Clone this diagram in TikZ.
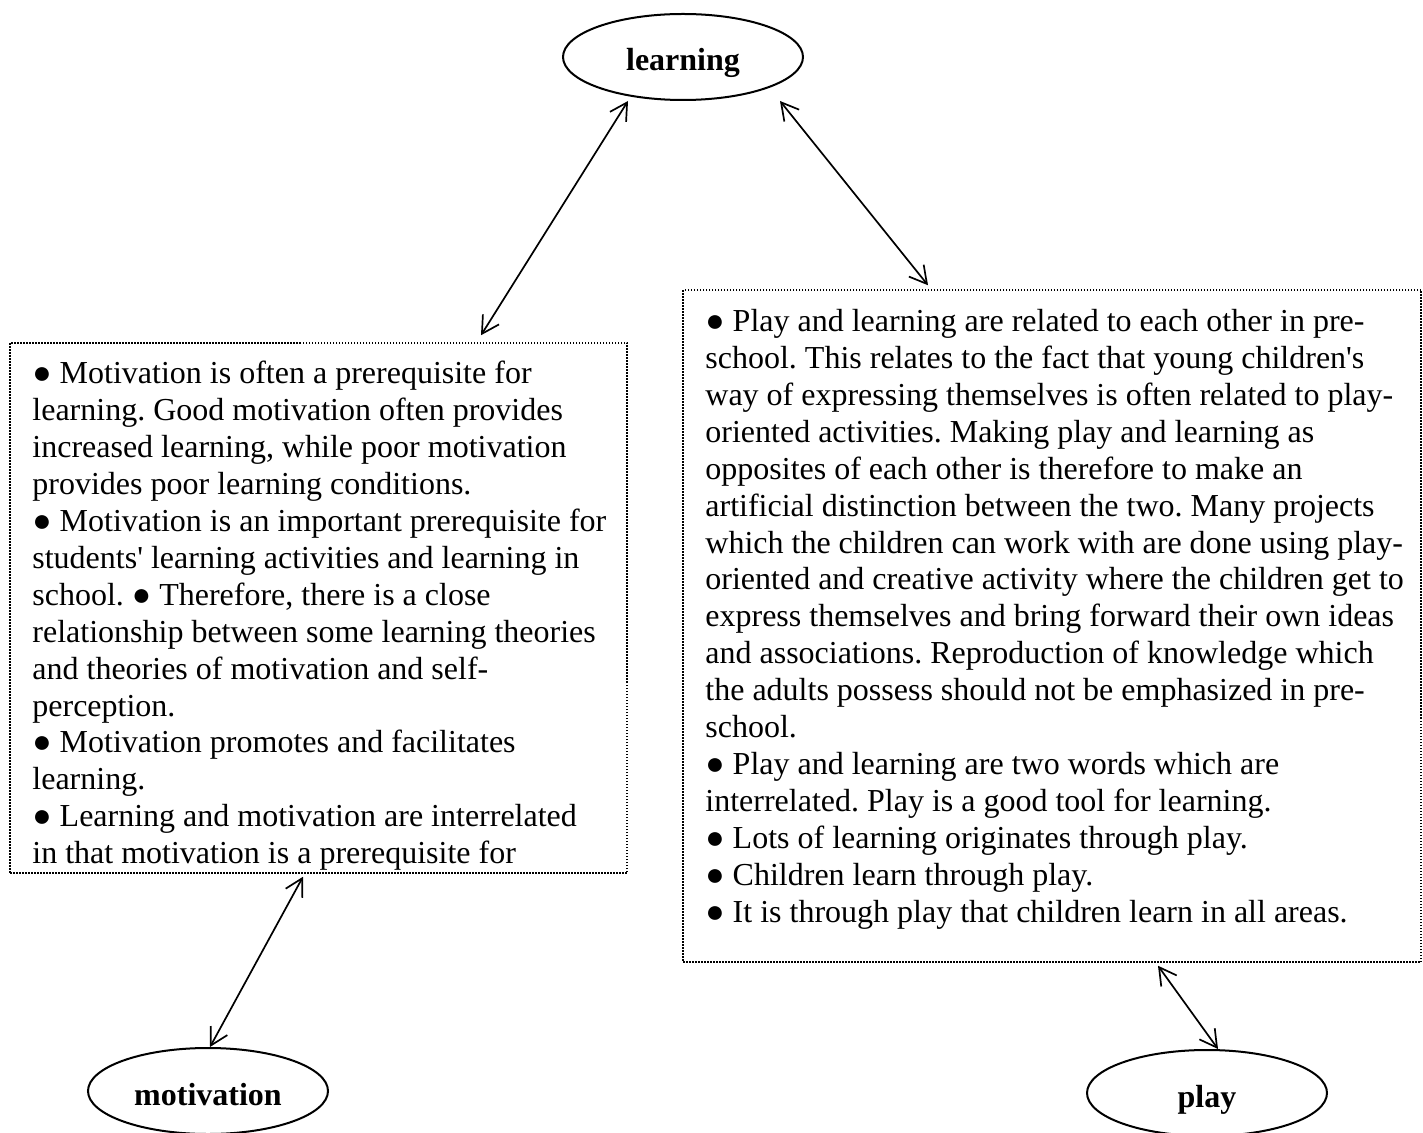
\documentclass[tikz,border=0pt]{standalone}
\usepackage{fontspec}
\setmainfont{Liberation Serif}[Ligatures=TeXOff]
\usetikzlibrary{arrows.meta,shapes.geometric}
\newcommand\bodytext{\fontsize{16}{18.45}\selectfont\frenchspacing}
\begin{document}
\begin{tikzpicture}[x=0.5pt,y=-0.5pt,
  concept/.style={draw, ellipse, line width=1pt, minimum width=120pt,
    minimum height=43pt, inner sep=0pt, text height=14pt, text depth=0pt,
    font=\bodytext\bfseries},
  notebox/.style={draw, dash pattern=on 0.75pt off 0.75pt, line width=0.75pt,
    inner sep=0pt},
  notetext/.style={anchor=north west, inner sep=0pt, align=left, font=\bodytext},
  link/.style={{Straight Barb[length=8.5pt,width=9.5pt]}-{Straight Barb[length=8.5pt,width=9.5pt]},
    line width=0.85pt}]
\useasboundingbox (0,0) rectangle (1423,1133);

% concepts
\node[concept] (learning)   at (683,57)   {learning};
\node[concept] (motivation) at (208,1091) {motivation};
\node[concept] (play)       at (1207,1093) {play};

% note boxes
\node[notebox, minimum width=308.5pt, minimum height=265pt] (lbox) at (318.5,608) {};
\node[notebox, minimum width=369pt, minimum height=336pt] (rbox) at (1052,626) {};

\begin{scope}
  \clip (lbox.north west) rectangle (lbox.south east);
  \node[notetext] (ltext) at (32,361) {%
    ● Motivation is often a prerequisite for\\
    learning. Good motivation often provides\\
    increased learning, while poor motivation\\
    provides poor learning conditions.\\
    ● Motivation is an important prerequisite for\\
    students' learning activities and learning in\\
    school. ● Therefore, there is a close\\
    relationship between some learning theories\\
    and theories of motivation and self-\\
    perception.\\
    ● Motivation promotes and facilitates\\
    learning.\\
    ● Learning and motivation are interrelated\\
    in that motivation is a prerequisite for};
\end{scope}

\node[notetext] (rtext) at (705,309) {%
  ● Play and learning are related to each other in pre-\\
  school. This relates to the fact that young children's\\
  way of expressing themselves is often related to play-\\
  oriented activities. Making play and learning as\\
  opposites of each other is therefore to make an\\
  artificial distinction between the two. Many projects\\
  which the children can work with are done using play-\\
  oriented and creative activity where the children get to\\
  express themselves and bring forward their own ideas\\
  and associations. Reproduction of knowledge which\\
  the adults possess should not be emphasized in pre-\\
  school.\\
  ● Play and learning are two words which are\\
  interrelated. Play is a good tool for learning.\\
  ● Lots of learning originates through play.\\
  ● Children learn through play.\\
  ● It is through play that children learn in all areas.};

% connectors
\draw[link] ([xshift=-27.5pt]learning.south) -- ([xshift=81.25pt,yshift=3.5pt]lbox.north);
\draw[link] ([xshift=48.5pt]learning.south) -- ([xshift=-62pt,yshift=2pt]rbox.north);
\draw[link] ([xshift=-7.75pt,yshift=-1.5pt]lbox.south) -- ([xshift=1pt]motivation.north);
\draw[link] ([xshift=53pt,yshift=-1.5pt]rbox.south) -- ([xshift=5.5pt]play.north);
\end{tikzpicture}
\end{document}
